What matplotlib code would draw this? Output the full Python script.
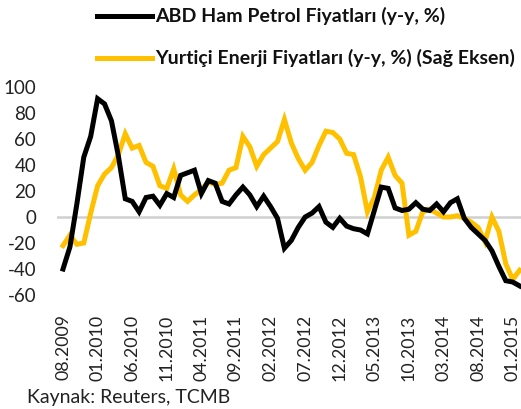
import matplotlib
matplotlib.use("Agg")
import matplotlib.pyplot as plt
from matplotlib.lines import Line2D
import pandas as pd

# Monthly data, 08.2009 - 02.2015
dates = pd.date_range("2009-08-01", "2015-02-01", freq="MS")
crude_oil = [-40, -23, 10, 46, 62, 91, 87, 74, 47, 14,
             12, 4, 15, 16, 9, 18, 15, 32, 34, 36,
             18, 28, 26, 12, 10, 17, 23, 17, 8, 16,
             8, -1, -24, -18, -8, 0, 3, 8, -4, -8,
             -1, -7, -9, -10, -13, 5, 23, 22, 7, 5,
             6, 11, 6, 5, 10, 4, 11, 14, -1, -8,
             -13, -18, -26, -38, -49, -50, -53]
domestic_energy = [-22, -14, -21, -20, 3, 24, 33, 38, 48, 64,
                   53, 55, 42, 39, 24, 22, 37, 17, 12, 17,
                   21, 27, 25, 26, 36, 38, 62, 54, 39, 48,
                   53, 58, 75, 57, 45, 36, 42, 55, 66, 65,
                   60, 49, 48, 31, 4, 15, 36, 46, 32, 26,
                   -14, -11, 4, 6, 3, 0, 0, 1, -1, -4,
                   -8, -19, 0, -11, -36, -48, -41]
tick_labels = ["08.2009", "01.2010", "06.2010", "11.2010", "04.2011", "09.2011",
               "02.2012", "07.2012", "12.2012", "05.2013", "10.2013", "03.2014",
               "08.2014", "01.2015"]
yticks = [-60, -40, -20, 0, 20, 40, 60, 80, 100]

plt.rcParams['font.family'] = ['Lato', 'DejaVu Sans']

W, H = 521, 409
fig = plt.figure(figsize=(W / 100, H / 100), dpi=100)
ax = fig.add_axes([57 / W, (H - 295) / H, (W - 57) / W, (295 - 87) / H])

x = list(range(len(dates)))
ax.axhline(0, color="#d0d0d0", lw=1.8, zorder=1)
ax.plot(x, crude_oil, color="black", lw=3.6, solid_joinstyle="miter", zorder=3)
ax.plot(x, domestic_energy, color="#FFC000", lw=3.6, solid_joinstyle="miter", zorder=2)

ax.set_xlim(-0.87, 66.2)
ax.set_ylim(-60, 100)
ax.set_yticks(yticks)
ax.set_yticklabels([str(v) for v in yticks], fontsize=13.5, color="#222222")
ax.set_xticks(range(0, len(dates), 5))
ax.set_xticklabels(tick_labels, rotation=90, fontsize=12.8, color="#222222")
ax.tick_params(axis="y", length=0, pad=15)
ax.tick_params(axis="x", length=0, pad=14)
for s in ax.spines.values():
    s.set_visible(False)

# Legend
leg_items = [("ABD Ham Petrol Fiyatları (y-y, %)", "black", 16),
             ("Yurtiçi Enerji Fiyatları (y-y, %) (Sağ Eksen)", "#FFC000", 58)]
for text, color, yc in leg_items:
    fig.add_artist(Line2D([97 / W, 152 / W], [1 - yc / H, 1 - yc / H],
                          color=color, lw=3.6, transform=fig.transFigure))
    fig.text(155 / W, 1 - yc / H, text, fontsize=14, fontweight="bold",
             va="center", ha="left", color="#111111")

fig.text(27 / W, 1 - 398 / H, "Kaynak: Reuters, TCMB", fontsize=14,
         va="center", ha="left", color="#222222")

fig.savefig("out.png", dpi=100)
